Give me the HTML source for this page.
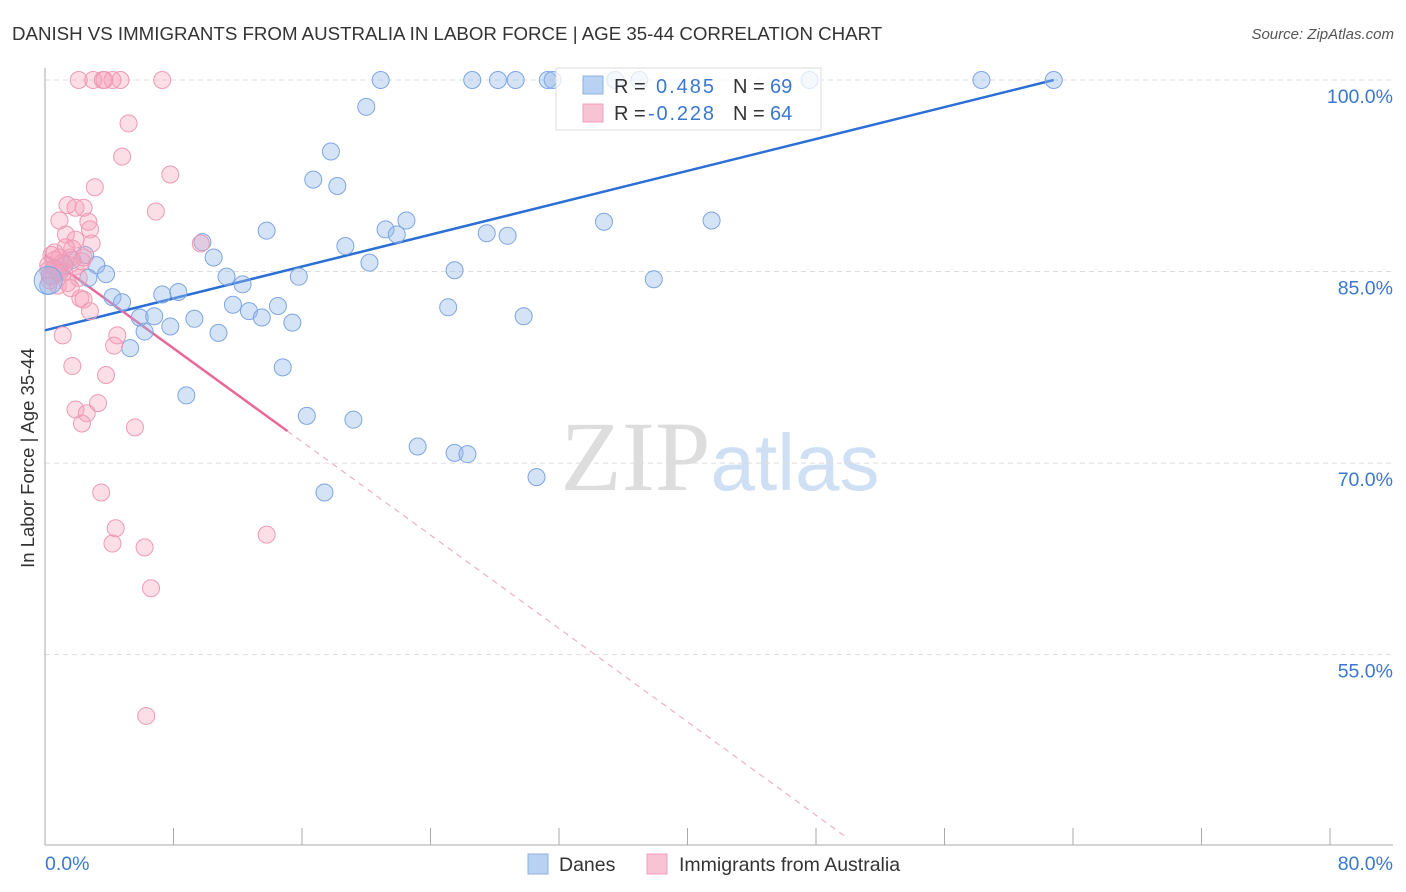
<!DOCTYPE html>
<html><head><meta charset="utf-8">
<style>
body{margin:0;background:#fff;font-family:"Liberation Sans",sans-serif;}
svg{display:block}
</style></head>
<body>
<svg id="chart" width="1406" height="892" xmlns="http://www.w3.org/2000/svg">
<text x="12" y="40" font-size="18.7" fill="#333">DANISH VS IMMIGRANTS FROM AUSTRALIA IN LABOR FORCE | AGE 35-44 CORRELATION CHART</text>
<text x="1394" y="39" font-size="15" fill="#555" font-style="italic" text-anchor="end">Source: ZipAtlas.com</text>
<text x="720" y="490" font-size="100" text-anchor="middle" font-family="Liberation Serif,serif"><tspan fill="#ddd">ZIP</tspan><tspan fill="#cfe0f5" font-family="Liberation Sans,sans-serif" font-size="80">atlas</tspan></text>
<text transform="translate(34,458) rotate(-90)" font-size="18.5" fill="#333" text-anchor="middle">In Labor Force | Age 35-44</text>
<g id="grid"></g>
<g id="axes"></g>
<g id="lines"></g>
<g id="pts"></g>
<g>
<rect x="556" y="68" width="265" height="62" fill="rgba(255,255,255,0.75)" stroke="#ddd"/>
<rect x="583" y="76" width="20" height="18" fill="#b9d2f3" stroke="#8fb0e6"/>
<text x="614" y="93" font-size="20" fill="#333">R =</text><text x="656" y="93" font-size="20" fill="#3a78d0" textLength="58">0.485</text>
<text x="733" y="93" font-size="20" fill="#333">N =</text><text x="770" y="93" font-size="20" fill="#3a78d0">69</text>
<rect x="583" y="104" width="20" height="18" fill="#f8c4d3" stroke="#eea0b8"/>
<text x="614" y="120" font-size="20" fill="#333">R =</text><text x="648" y="120" font-size="20" fill="#3a78d0" textLength="66">-0.228</text>
<text x="733" y="120" font-size="20" fill="#333">N =</text><text x="770" y="120" font-size="20" fill="#3a78d0">64</text>
</g>
<g>
<rect x="528" y="854" width="20" height="20" fill="#b9d2f3" stroke="#8fb0e6"/>
<text x="559" y="871" font-size="19.5" fill="#333">Danes</text>
<rect x="647" y="854" width="20" height="20" fill="#f8c4d3" stroke="#eea0b8"/>
<text x="679" y="871" font-size="19.5" fill="#333">Immigrants from Australia</text>
</g>
</svg>
<script>
const yTicks=[100,85,70,55];
const xTickCount=10;
const blueX=[20.9,26.6,28.2,29.3,31.3,31.6,35.5,37.0,47.6,58.3,62.8,20.0,17.8,16.7,18.2,22.5,34.8,41.5,13.8,21.2,21.9,27.5,28.8,9.8,18.7,10.5,20.2,3.2,25.5,3.8,2.7,11.3,12.3,15.8,37.9,0.9,0.6,0.3,4.2,4.8,7.3,8.3,11.7,12.7,13.5,14.5,25.1,5.9,6.8,9.3,15.4,29.8,7.8,6.2,10.8,5.3,14.8,8.8,16.3,19.2,23.2,25.5,26.3,30.6,17.4,0.2,1.7,2.5,1.2];
const blueY=[100,100,100,100,100,100,100,100,100,100,100,97.9,94.4,92.2,91.7,89.0,88.9,89.0,88.2,88.3,87.9,88.0,87.8,87.3,87.0,86.1,85.7,85.5,85.1,84.8,84.5,84.6,84.0,84.6,84.4,85.1,85.3,84.7,83.0,82.6,83.2,83.4,82.4,81.9,81.4,82.3,82.2,81.4,81.5,81.3,81.0,81.5,80.7,80.3,80.2,79.0,77.5,75.3,73.7,73.4,71.3,70.8,70.7,68.9,67.7,83.9,85.9,86.3,85.5];
const pinkX=[2.1,3.0,3.6,4.2,4.7,7.3,3.7,5.2,4.8,7.8,3.1,6.9,1.4,1.9,2.4,0.9,2.7,1.3,2.8,1.9,2.9,1.7,0.4,0.9,1.6,2.4,0.2,0.7,1.2,0.3,0.8,1.4,2.1,9.7,2.2,2.4,2.8,1.1,4.5,4.3,1.7,3.8,3.3,1.9,2.6,2.3,5.6,3.5,4.4,4.2,6.2,13.8,6.6,6.3,0.6,1.1,0.2,0.6,1.3,0.4,1.9,2.3,0.9,1.6];
const pinkY=[100,100,100,100,100,100,100,96.6,94.0,92.6,91.6,89.7,90.2,90.0,90.0,89.0,88.9,87.9,88.3,87.5,87.2,86.8,86.3,86.1,86.1,86.1,85.5,85.1,85.0,84.3,83.9,84.1,84.5,87.2,82.9,82.8,81.9,80.0,80.0,79.2,77.6,76.9,74.7,74.2,73.9,73.1,72.8,67.7,64.9,63.7,63.4,64.4,60.2,50.2,85.9,85.7,85.1,86.5,86.9,84.6,85.4,85.8,84.9,83.7];
const blueLine=[[0,80.4],[62.8,100]];
const pinkSolid=[[0,86.3],[15.1,72.5]];
const pinkDash=[[15.1,72.5],[50.0,40.6]];
const X=v=>45+v/80*1285;
const Y=v=>80+(100-v)*12.77;
const NS="http://www.w3.org/2000/svg";
function mk(tag,attrs,parent){const e=document.createElementNS(NS,tag);for(const k in attrs)e.setAttribute(k,attrs[k]);document.getElementById(parent).appendChild(e);return e;}
yTicks.forEach(t=>{
 const l=mk('line',{x1:45,x2:1393,y1:Y(t),y2:Y(t),stroke:'#ddd','stroke-dasharray':'5,4'},'grid');
 
 
 const tx=mk('text',{x:1393,y:Y(t)+23,'font-size':19.5,fill:'#3a78d0','text-anchor':'end'},'grid');
 tx.textContent=t.toFixed(1)+'%';
 
 
});
let a=mk('line',{x1:45,x2:45,y1:68,y2:845,stroke:'#aaa'},'axes');


a=mk('line',{x1:45,x2:1393,y1:845,y2:845,stroke:'#aaa'},'axes');


for(let i=1;i<=xTickCount;i++){const t=mk('line',{x1:X(i*8),x2:X(i*8),y1:828,y2:845,stroke:'#aaa'},'axes');
 
 }
let xl=mk('text',{x:45,y:870,'font-size':19.5,fill:'#3a78d0'},'axes');xl.textContent='0.0%';


xl=mk('text',{x:1393,y:870,'font-size':19.5,fill:'#3a78d0','text-anchor':'end'},'axes');xl.textContent='80.0%';


function pts(xs,ys,fill,stroke,name){xs.forEach((x,i)=>{const c=mk('circle',{cx:X(x),cy:Y(ys[i]),r:8.5,fill:fill,stroke:stroke,'stroke-width':1},'pts');
 
 });}
pts(blueX,blueY,'rgba(150,185,235,0.4)','#7ea6e0','danes-point');
pts(pinkX,pinkY,'rgba(245,160,185,0.35)','#ee9ab5','australia-point');
let big=mk('circle',{cx:X(0.2),cy:Y(84.3),r:14,fill:'rgba(150,185,235,0.4)',stroke:'#7ea6e0'},'pts');


function line(p,stroke,w,dash,name){const l=mk('line',{x1:X(p[0][0]),y1:Y(p[0][1]),x2:X(p[1][0]),y2:Y(p[1][1]),stroke:stroke,'stroke-width':w},'lines');
 if(dash)l.setAttribute('stroke-dasharray',dash);
 
 }
line(blueLine,'#2a6fd6',2.5,null,'danes-trend-line');
line(pinkSolid,'#e8689a',2.5,null,'australia-trend-line');
line(pinkDash,'#eeb0c6',1.2,'6,5','australia-trend-extension');
</script>
</body></html>
